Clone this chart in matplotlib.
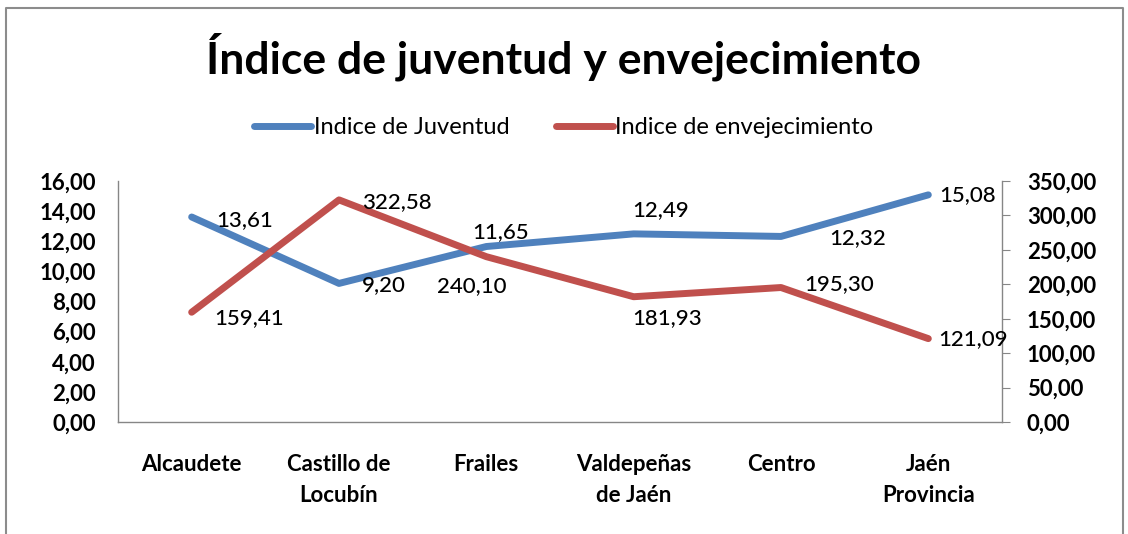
import matplotlib.pyplot as plt
from matplotlib.lines import Line2D

plt.rcParams['font.family'] = ['Lato', 'DejaVu Sans']

categories = ['Alcaudete', 'Castillo de\nLocubín', 'Frailes', 'Valdepeñas\nde Jaén', 'Centro', 'Jaén\nProvincia']
juventud = [13.61, 9.20, 11.65, 12.49, 12.32, 15.08]
envejecimiento = [159.41, 322.58, 240.10, 181.93, 195.30, 121.09]
left_ticks = [0, 2, 4, 6, 8, 10, 12, 14, 16]
right_ticks = [0, 50, 100, 150, 200, 250, 300, 350]

# label offsets in pixels (dx, dy), text left edge relative to point, dy up
off_juv = [(25, -3), (23, -2), (-14, 14), (-1, 24), (48, -2), (11, 0)]
off_env = [(23, -6), (23, -2), (-49, -29), (-1, -21), (23, 3), (10, 0)]

blue = '#4F81BD'
red = '#C0504D'
grey = '#868686'

W, H = 1128, 534
fig = plt.figure(figsize=(W / 100, H / 100), dpi=100)
ax = fig.add_axes([118 / W, (H - 422) / H, 884 / W, 241 / H])
ax2 = ax.twinx()

x = list(range(len(categories)))
ax.plot(x, juventud, color=blue, linewidth=5, solid_capstyle='round', zorder=3)
ax2.plot(x, envejecimiento, color=red, linewidth=5, solid_capstyle='round', zorder=3)

ax.set_xlim(-0.5, len(categories) - 0.5)
ax.set_ylim(0, 16)
ax2.set_ylim(0, 350)
ax.set_yticks(left_ticks)
ax.set_yticklabels(['{:.2f}'.format(v).replace('.', ',') for v in left_ticks])
ax2.set_yticks(right_ticks)
ax2.set_yticklabels(['{:.2f}'.format(v).replace('.', ',') for v in right_ticks])
ax.set_xticks(x)
ax.set_xticklabels(categories, fontweight='bold', fontsize=16, linespacing=1.6)

ax.tick_params(axis='x', length=0, pad=23)
ax.tick_params(axis='y', length=0, pad=16, labelsize=16)
ax2.tick_params(axis='y', length=6, pad=12, labelsize=16, color=grey)
for lab in ax.get_yticklabels() + ax2.get_yticklabels():
    lab.set_fontweight('bold')

for a in (ax, ax2):
    a.spines['top'].set_visible(False)
    for s in ('left', 'right', 'bottom'):
        a.spines[s].set_color(grey)
        a.spines[s].set_linewidth(1)
ax.spines['right'].set_visible(False)
ax2.spines['left'].set_visible(False)
ax2.spines['bottom'].set_visible(False)

for i, v in enumerate(juventud):
    dx, dy = off_juv[i]
    ax2.annotate('{:.2f}'.format(v).replace('.', ','), xy=(i, v / 16 * 350),
                 xytext=(dx * 0.72, dy * 0.72), textcoords='offset points',
                 ha='left', va='center', fontsize=16, fontweight='medium', zorder=5)
for i, v in enumerate(envejecimiento):
    dx, dy = off_env[i]
    ax2.annotate('{:.2f}'.format(v).replace('.', ','), xy=(i, v),
                 xytext=(dx * 0.72, dy * 0.72), textcoords='offset points',
                 ha='left', va='center', fontsize=16, fontweight='medium', zorder=5)

fig.text(0.5, (H - 57) / H, 'Índice de juventud y envejecimiento',
         ha='center', va='center', fontsize=32, fontweight='bold')

handles = [Line2D([], [], color=blue, linewidth=5, solid_capstyle='round'),
           Line2D([], [], color=red, linewidth=5, solid_capstyle='round')]
fig.legend(handles, ['Indice de Juventud', 'Indice de envejecimiento'],
           loc='center', bbox_to_anchor=(0.5, (H - 128) / H), ncol=2, frameon=False,
           fontsize=17, handlelength=2.4, handletextpad=0.1, columnspacing=2.0)

# outer chart border
fig.add_artist(Line2D([6 / W, 6 / W, 1123 / W, 1123 / W], [0, (H - 8) / H, (H - 8) / H, 0],
                      color='#8c8c8c', linewidth=1.5, transform=fig.transFigure))

fig.savefig('out.png', dpi=100)
